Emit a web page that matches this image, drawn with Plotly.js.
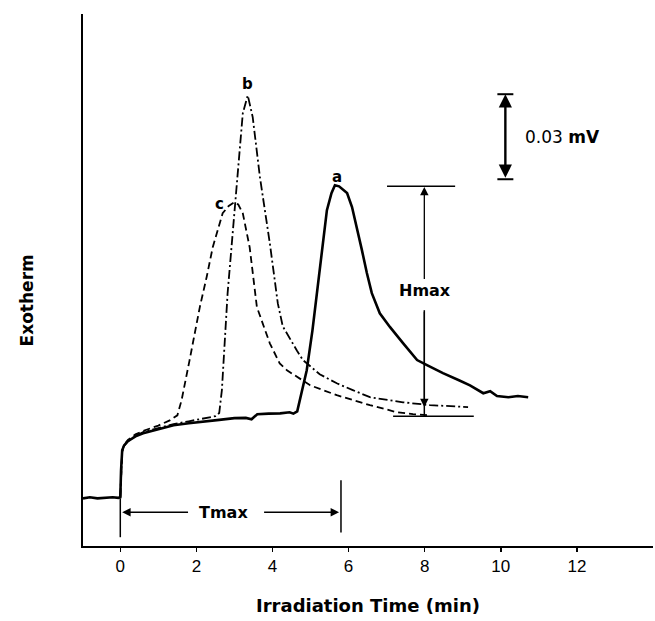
<!DOCTYPE html>
<html>
<head>
<meta charset="utf-8">
<script src="https://cdn.plot.ly/plotly-3.0.1.min.js"></script>
<style>html,body{margin:0;padding:0;background:#fff;}#chart{width:655px;height:621px;}</style>
</head>
<body>
<div id="chart"></div>
<script>
// Irradiation time (min) and exotherm (mV)
var aX = [-0.98,-0.8,-0.6,-0.4,-0.2,-0.05,0.0,0.02,0.05,0.1,0.2,0.4,0.6,1.0,1.4,1.8,2.2,2.6,3.0,3.3,3.45,3.6,3.9,4.2,4.45,4.55,4.65,4.75,4.9,5.05,5.2,5.3,5.43,5.55,5.64,5.75,5.85,5.96,6.09,6.22,6.35,6.48,6.61,6.82,7.09,7.43,7.80,8.06,8.48,8.9,9.19,9.54,9.72,9.9,10.2,10.45,10.72];
var aY = [0.0168,0.0172,0.0168,0.0171,0.0172,0.0170,0.0172,0.0267,0.0338,0.0355,0.0370,0.0387,0.0398,0.0412,0.0426,0.0433,0.0440,0.0445,0.0451,0.0452,0.0447,0.0465,0.0467,0.0468,0.0472,0.0467,0.0475,0.0532,0.0620,0.0761,0.0920,0.1044,0.1185,0.1245,0.1273,0.1269,0.1259,0.1245,0.1196,0.1125,0.1044,0.0963,0.0892,0.0821,0.0772,0.0716,0.0656,0.0638,0.0610,0.0585,0.0567,0.0539,0.0546,0.0529,0.0525,0.0529,0.0525];

var bX = [0,0.05,0.1,0.2,0.4,0.6,1.0,1.4,1.8,2.2,2.5,2.6,2.67,2.82,2.93,3.06,3.22,3.35,3.48,3.67,3.93,4.14,4.27,4.64,4.8,5.24,5.69,6.11,6.56,7.43,8.14,9.14];
var bY = [0.0172,0.0332,0.0353,0.0370,0.0388,0.0402,0.0416,0.0430,0.0440,0.0451,0.0458,0.0469,0.0550,0.0891,0.1068,0.1301,0.1527,0.1590,0.1513,0.1301,0.1068,0.0856,0.0775,0.0690,0.0656,0.0606,0.0574,0.0550,0.0525,0.0507,0.0497,0.0490];

var cX = [0,0.05,0.1,0.2,0.4,0.6,1.0,1.3,1.5,1.61,1.82,2.09,2.27,2.43,2.69,2.85,3.0,3.1,3.22,3.4,3.59,3.93,4.19,4.38,4.99,5.69,6.56,7.27,7.69,8.14];
var cY = [0.0172,0.0335,0.0357,0.0374,0.0394,0.0406,0.0425,0.0443,0.0461,0.0514,0.0655,0.0843,0.0949,0.1054,0.1174,0.1200,0.1213,0.1205,0.1174,0.1054,0.0843,0.0715,0.0644,0.0620,0.0567,0.0532,0.0497,0.0472,0.0465,0.0461];

var tickVals = [0,2,4,6,8,10,12];
var tickText = ['0','2','4','6','8','10','12'];

var FONT = 'Liberation Sans, Arial, sans-serif';
var BFONT = 'DejaVu Sans, Liberation Sans, sans-serif';

var traces = [
  {x: aX, y: aY, mode: 'lines', name: 'a', line: {color: '#000', width: 2.6}, showlegend: false},
  {x: bX, y: bY, mode: 'lines', name: 'b', line: {color: '#000', width: 1.8, dash: '9px,3px,2px,3px'}, showlegend: false},
  {x: cX, y: cY, mode: 'lines', name: 'c', line: {color: '#000', width: 1.8, dash: '7px,4px'}, showlegend: false}
];

var peakA = Math.max.apply(null, aY);
var hmaxX = 7.99, hmaxBase = 0.0458;
var tmaxY = 0.0119, tmaxEnd = 5.8;
var barX = 10.12, barTop = 0.1594, barBot = 0.1294;

function ln(x0, y0, x1, y1, w) {
  return {type: 'line', xref: 'x', yref: 'y', x0: x0, y0: y0, x1: x1, y1: y1, line: {color: '#000', width: w || 1.5}};
}
function arrow(xt, yt, xs, ys, w, size) {
  return {x: xt, y: yt, ax: xs, ay: ys, xref: 'x', yref: 'y', axref: 'x', ayref: 'y', text: '', showarrow: true,
          arrowhead: 2, arrowsize: size || 1.3, arrowwidth: w || 1.5, arrowcolor: '#000'};
}
function label(txt, x, y, size, extra) {
  var o = {x: x, y: y, xref: 'x', yref: 'y', text: txt, showarrow: false, font: {family: BFONT, size: size, color: '#000'}};
  for (var k in extra) o[k] = extra[k];
  return o;
}

var shapes = [
  // Hmax
  ln(7.01, peakA - 0.0004, 8.8, peakA - 0.0004, 1.5),
  ln(hmaxX, 0.0832, hmaxX, hmaxBase, 1.5),
  ln(7.17, hmaxBase, 9.29, hmaxBase, 1.5),
  // Tmax
  ln(0, 0.0168, 0, 0.0031, 1.5),
  ln(tmaxEnd, 0.0232, tmaxEnd, 0.0048, 1.5),
  // scale bar caps
  ln(9.91, barTop, 10.33, barTop, 2),
  ln(9.91, barBot, 10.33, barBot, 2)
];

var annotations = [
  label('<b>a</b>', 5.7, 0.1302, 15),
  label('<b>b</b>', 3.35, 0.1630, 15),
  label('<b>c</b>', 2.62, 0.1206, 15),
  label('<b>Hmax</b>', hmaxX + 0.03, 0.0902, 16),
  label('<b>Tmax</b>', 2.7, tmaxY, 16),
  label('0.03 <b>mV</b>', 10.59, 0.1443, 17, {xanchor: 'left'}),
  arrow(hmaxX, peakA - 0.0006, hmaxX, 0.0937, 1.3, 1.3),
  arrow(hmaxX, 0.0490, hmaxX, 0.0832, 1.3, 1.3),
  arrow(0.05, tmaxY, 1.82, tmaxY, 1.3, 1.3),
  arrow(tmaxEnd - 0.05, tmaxY, 3.74, tmaxY, 1.3, 1.3),
  {x: barX, y: barTop, ax: barX, ay: barBot, xref: 'x', yref: 'y', axref: 'x', ayref: 'y', text: '', showarrow: true,
   arrowhead: 2, startarrowhead: 2, arrowside: 'end+start', arrowsize: 1.1, startarrowsize: 1.1, arrowwidth: 2.4, arrowcolor: '#000'},
  {x: -0.119, y: 0.462, xref: 'paper', yref: 'paper', text: '<b>Exotherm</b>', textangle: -90, showarrow: false,
   font: {family: BFONT, size: 17, color: '#000'}}
];

var layout = {
  width: 655, height: 621,
  margin: {l: 83, r: 2, t: 14, b: 75},
  paper_bgcolor: '#fff', plot_bgcolor: '#fff',
  font: {family: FONT, color: '#000'},
  showlegend: false,
  xaxis: {
    range: [-0.98, 14.0], showgrid: false, zeroline: false,
    showline: true, linecolor: '#000', linewidth: 2,
    tickmode: 'array', tickvals: tickVals, ticktext: tickText,
    ticks: 'outside', ticklen: 4, tickwidth: 1.5, tickcolor: '#000',
    tickfont: {family: FONT, size: 17, color: '#000'},
    title: {text: '<b>Irradiation Time (min)</b>', font: {family: BFONT, size: 18, color: '#000'}, standoff: 24}
  },
  yaxis: {
    range: [0, 0.1877], showgrid: false, zeroline: false,
    showline: true, linecolor: '#000', linewidth: 2,
    showticklabels: false, ticks: ''
  },
  shapes: shapes,
  annotations: annotations
};

Plotly.newPlot('chart', traces, layout, {displayModeBar: false, staticPlot: true});
</script>
</body>
</html>
